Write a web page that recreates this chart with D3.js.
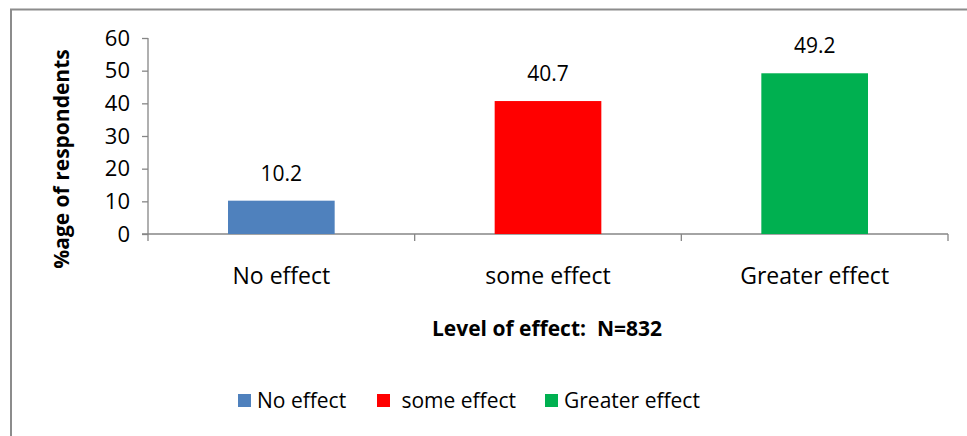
<!DOCTYPE html>
<html><head><meta charset="utf-8">
<script src="https://cdn.jsdelivr.net/npm/d3@7"></script>
<style>body{margin:0;background:#fff;} svg{display:block;} text{white-space:pre;}</style>
</head><body>
<script>
const categories = ["No effect", "some effect", "Greater effect"];
const legendLabels = ["No effect", " some effect", "Greater effect"];
const values = [10.2, 40.7, 49.2];
const colors = ["#4F81BD", "#FF0000", "#00B050"];
const yTicks = [0, 10, 20, 30, 40, 50, 60];
const yTitle = "%age of respondents";
const xTitle = "Level of effect:  N=832";

const W = 967, H = 436;
const font = "'Open Sans', sans-serif";
const svg = d3.select("body").append("svg").attr("width", W).attr("height", H);

// outer frame
svg.append("rect").attr("x", 11).attr("y", 9.5).attr("width", 1000).attr("height", 500)
  .attr("fill", "none").attr("stroke", "#8c8c8c").attr("stroke-width", 2);

const x = d3.scaleBand().domain(categories).range([148, 948]).paddingInner(0.6).paddingOuter(0.3);
const y = d3.scaleLinear().domain([0, 60]).range([234, 38]);
const axisColor = "#868686";

// y axis
const ya = svg.append("g").attr("transform", "translate(148,0)")
  .call(d3.axisLeft(y).tickValues(yTicks).tickSize(6).tickPadding(12));
ya.selectAll("path,line").attr("stroke", axisColor).attr("stroke-width", 1.3);
ya.select(".domain").attr("d", `M0,${y(60)}V${y(0)}`);
ya.selectAll("text").attr("font-family", font).attr("font-size", 22).attr("fill", "#000");

// x axis baseline with boundary ticks
const xa = svg.append("g");
xa.append("line").attr("x1", 142).attr("x2", 948).attr("y1", y(0)).attr("y2", y(0))
  .attr("stroke", axisColor).attr("stroke-width", 1.3);
const bounds = [148, 148 + (948-148)/3, 148 + 2*(948-148)/3, 948];
xa.selectAll("line.bt").data(bounds).join("line").attr("class", "bt")
  .attr("x1", d => d).attr("x2", d => d).attr("y1", y(0)).attr("y2", y(0) + 7)
  .attr("stroke", axisColor).attr("stroke-width", 1.3);
xa.selectAll("text.cat").data(categories).join("text").attr("class", "cat")
  .attr("x", d => x(d) + x.bandwidth()/2).attr("y", 284)
  .attr("text-anchor", "middle").attr("font-family", font).attr("font-size", 23)
  .text(d => d);

// bars
svg.selectAll("rect.bar").data(values).join("rect").attr("class", "bar")
  .attr("x", (d,i) => x(categories[i])).attr("width", x.bandwidth())
  .attr("y", d => y(d)).attr("height", d => y(0) - y(d))
  .attr("fill", (d,i) => colors[i]);

// data labels
svg.selectAll("text.val").data(values).join("text").attr("class", "val")
  .attr("x", (d,i) => x(categories[i]) + x.bandwidth()/2).attr("y", d => y(d) - 20)
  .attr("text-anchor", "middle").attr("font-family", font).attr("font-size", 21)
  .text(d => d.toFixed(1));

// axis titles
svg.append("text").attr("transform", "translate(69,159) rotate(-90)")
  .attr("text-anchor", "middle").attr("font-family", font).attr("font-weight", "bold")
  .attr("font-size", 21).text(yTitle);
svg.append("text").attr("x", 547).attr("y", 336).attr("text-anchor", "middle")
  .attr("font-family", font).attr("font-weight", "bold").attr("font-size", 21).text(xTitle);

// legend
const legendX = [238, 377, 545];
const lg = svg.selectAll("g.leg").data(legendLabels).join("g").attr("class", "leg")
  .attr("transform", (d,i) => `translate(${legendX[i]},0)`);
lg.append("rect").attr("x", 0).attr("y", 394).attr("width", 13).attr("height", 13)
  .attr("fill", (d,i) => colors[i]);
lg.append("text").attr("x", 19).attr("y", 408).attr("font-family", font).attr("font-size", 21)
  .text(d => d);
</script>
</body></html>
